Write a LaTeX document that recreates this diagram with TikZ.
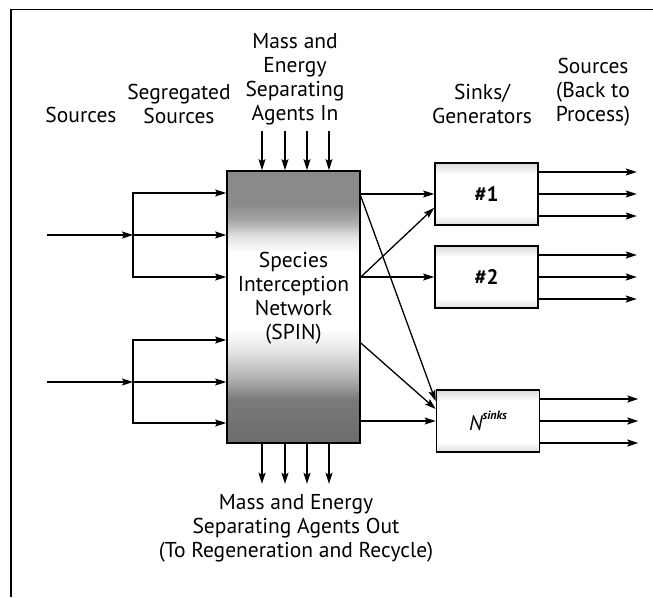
\documentclass[tikz,border=0pt]{standalone}
\usepackage{fontspec}
\setmainfont{PT Sans}
\usetikzlibrary{arrows.meta,calc}

% shading of the interception network: dark bands at top and bottom, pale middle
\pgfdeclareverticalshading{spinshade}{100bp}{%
  color(0bp)=(black!58); color(25bp)=(black!58); color(33bp)=(black!52);
  color(37bp)=(black!30); color(42bp)=(black!10); color(46bp)=(white);
  color(60bp)=(white); color(63bp)=(black!12); color(66bp)=(black!35);
  color(69bp)=(black!46); color(100bp)=(black!46)}
% faint tint along the top and bottom edges of the sink boxes
\pgfdeclareverticalshading{sinkshade}{100bp}{%
  color(0bp)=(black!13); color(25bp)=(black!13); color(33bp)=(white);
  color(66bp)=(white); color(75bp)=(black!15); color(100bp)=(black!15)}

\begin{document}
\begin{tikzpicture}[x=1pt,y=-1pt,
  txt/.style={font=\fontsize{21.5}{24}\selectfont, align=center, inner sep=0pt},
  arr/.style={line width=1.3pt, -{Stealth[length=11pt,width=7pt,inset=2pt]}},
  spinbox/.style={draw, line width=1.6pt, shading=spinshade,
    minimum width=133pt, minimum height=272pt, inner sep=0pt},
  sinkbox/.style={draw, line width=1.6pt, shading=sinkshade,
    minimum width=103pt, minimum height=62pt, inner sep=0pt,
    font=\fontsize{21}{24}\selectfont\bfseries}]
\useasboundingbox (0,0) rectangle (653,597);

% frame edges
\draw[line width=1.5pt] (11,597) -- (11,9.5) -- (653,9.5);

% main blocks
\node[spinbox] (spin) at (293.5,307) {};
\node[txt] (spintxt) at ($(spin.center)+(0,-9)$) {Species\\Interception\\Network\\(SPIN)};
\node[sinkbox] (k1) at (486.5,194) {\#1};
\node[sinkbox] (k2) at (486.5,277) {\#2};
\node[sinkbox] (kN) at (488,421) {\mdseries\itshape N\raisebox{1.0ex}{\fontsize{12}{12}\selectfont\bfseries sinks}};

% column headings
\node[txt] (hsrc) at (81,115) {Sources};
\node[txt] (hseg) at (179,104) {Segregated\\Sources};
\node[txt] (hin) at (295,79) {Mass and\\Energy\\Separating\\Agents In};
\node[txt] (hsink) at (482,104) {Sinks/\\Generators};
\node[txt] (hback) at (593,92) {Sources\\(Back to\\Process)};
\node[txt] (hout) at (296,528) {Mass and Energy\\Separating Agents Out\\(To Regeneration and Recycle)};

% incoming sources and their split into segregated streams
\coordinate (in1) at (47,235);  \coordinate (j1) at (133,235);
\coordinate (in2) at (47,382);  \coordinate (j2) at (133,382);
\coordinate (r1) at (0,193);    \coordinate (r3) at (0,277);
\coordinate (r4) at (0,340);    \coordinate (r6) at (0,423);
\draw[arr] (in1) -- (j1);
\draw[arr] (in2) -- (j2);
\draw[arr] (j1) -- (spin.west |- j1);
\draw[arr] (j1) |- (spin.west |- r1);
\draw[arr] (j1) |- (spin.west |- r3);
\draw[arr] (j2) -- (spin.west |- j2);
\draw[arr] (j2) |- (spin.west |- r4);
\draw[arr] (j2) |- (spin.west |- r6);

% separating agents in and out
\foreach \dx in {-31.5,-8.5,13.5,35.5}{
  \draw[arr] ($(spin.north)+(\dx,-39)$) -- ($(spin.north)+(\dx,0)$);
  \draw[arr] ($(spin.south)+(\dx,0)$) -- ($(spin.south)+(\dx,40)$);
}

% network outlets to the sinks
\draw[arr] (spin.east |- k1) -- (k1.west);
\draw[arr] (spin.east |- k2) -- (k2.west);
\draw[arr] (spin.east |- k2) -- ($(k1.south west)+(0,-18)$);
\draw[arr] ($(spin.north east)+(0,26)$) -- ($(kN.north west)+(0,12)$);
\draw[arr] ($(spin.east)+(0,36)$) -- ($(kN.west)+(0,-12)$);
\draw[arr] (spin.east |- kN) -- (kN.west);

% streams leaving each sink back to the process
\foreach \b in {k1,k2,kN}{
  \foreach \dy in {-22,0,22}{
    \draw[arr] ($(\b.east)+(0,\dy)$) -- ++(98,0);
  }
}
\end{tikzpicture}
\end{document}
